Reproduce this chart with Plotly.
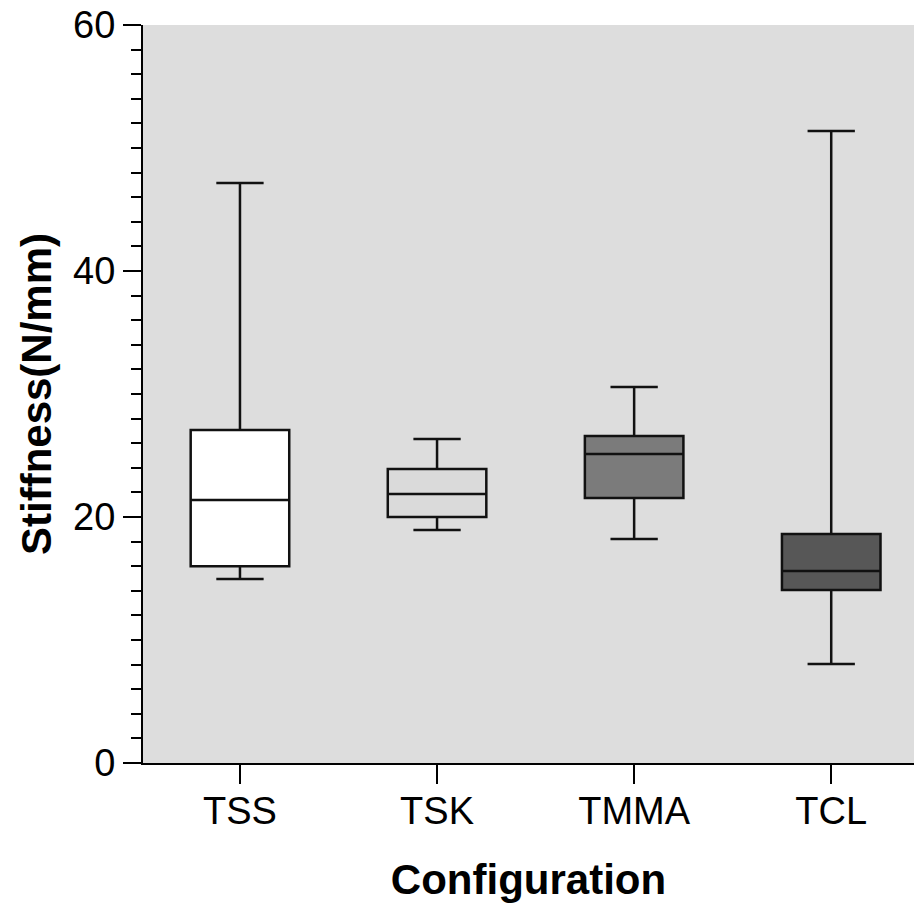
import plotly.graph_objects as go

categories = ["TSS", "TSK", "TMMA", "TCL"]
lower = [14.96, 18.94, 18.21, 8.05]
q1 = [16.0, 20.0, 21.54, 14.07]
median = [21.38, 21.87, 25.12, 15.61]
q3 = [27.07, 23.9, 26.59, 18.62]
upper = [47.15, 26.34, 30.57, 51.38]
fills = ["#ffffff", "#dadada", "#7b7b7b", "#575757"]

fig = go.Figure()
for i, c in enumerate(categories):
    fig.add_trace(go.Box(
        x=[i], q1=[q1[i]], median=[median[i]], q3=[q3[i]],
        lowerfence=[lower[i]], upperfence=[upper[i]],
        name=c, fillcolor=fills[i],
        line=dict(color="#111111", width=2.5),
        width=0.5, whiskerwidth=0.48, boxpoints=False,
        showlegend=False, hoverinfo="skip",
    ))

font_family = "Liberation Sans, Arial, sans-serif"
fig.update_layout(
    width=914, height=905,
    margin=dict(l=143, r=0, t=25, b=142),
    paper_bgcolor="white", plot_bgcolor="#dddddd",
    font=dict(family=font_family, color="black"),
)
fig.update_xaxes(
    range=[-0.492, 3.42], tickvals=list(range(len(categories))), ticktext=categories,
    showline=True, linecolor="black", linewidth=2,
    ticks="outside", ticklen=19, tickwidth=2, tickcolor="black",
    tickfont=dict(size=38, family=font_family), ticklabelstandoff=-6,
    showgrid=False, zeroline=False,
    title=dict(text="<b>Configuration</b>", font=dict(size=42, family=font_family), standoff=34),
)
fig.update_yaxes(
    range=[0, 60], tickvals=[0, 20, 40, 60],
    showline=True, linecolor="black", linewidth=2,
    ticks="outside", ticklen=18, tickwidth=2, tickcolor="black",
    tickfont=dict(size=38, family=font_family),
    minor=dict(dtick=2, ticks="outside", ticklen=10, tickwidth=2, tickcolor="black", showgrid=False),
    showgrid=False, zeroline=False,
    title=dict(text="<b>Stiffness(N/mm)</b>", font=dict(size=42, family=font_family), standoff=8),
)
fig.write_html("out.html")
